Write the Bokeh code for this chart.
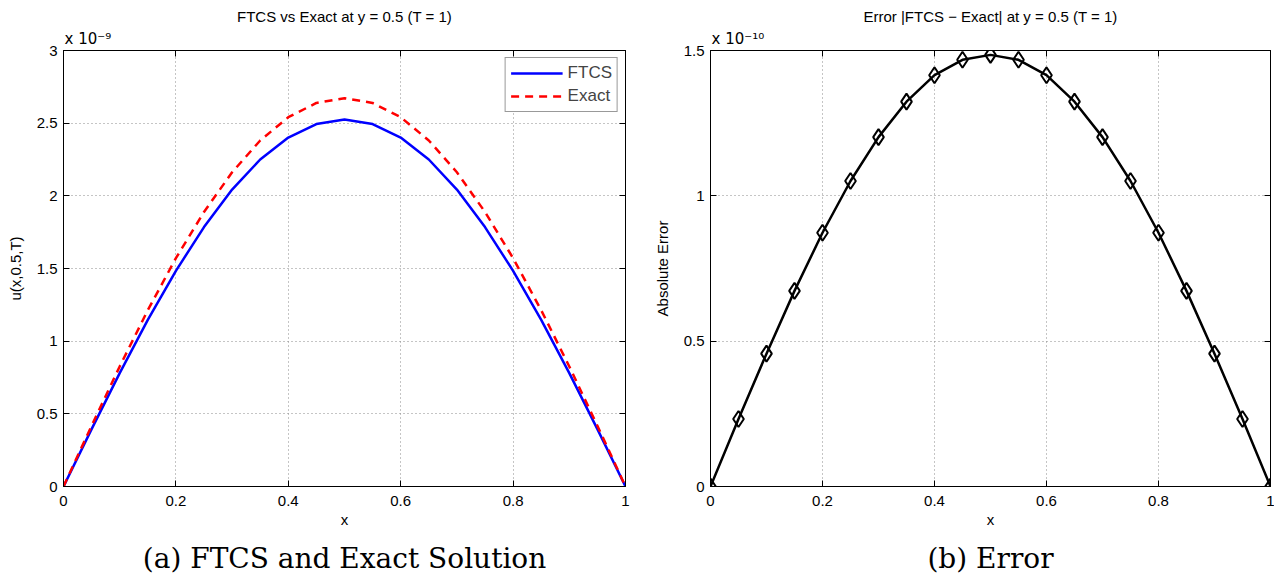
from bokeh.plotting import figure
from bokeh.models import Range1d, LinearAxis, Title, Legend, LegendItem, FixedTicker
from bokeh.layouts import row
from bokeh.embed import file_html
from bokeh.resources import INLINE

# ---------------- data ----------------
x = [0.0, 0.05, 0.1, 0.15, 0.2, 0.25, 0.3, 0.35, 0.4, 0.45, 0.5,
     0.55, 0.6, 0.65, 0.7, 0.75, 0.8, 0.85, 0.9, 0.95, 1.0]
# values in units of 1e-9
ftcs = [0.0, 0.395, 0.780, 1.146, 1.484, 1.785, 2.043, 2.250, 2.401, 2.494, 2.525,
        2.494, 2.401, 2.250, 2.043, 1.785, 1.484, 1.146, 0.780, 0.395, 0.0]
exact = [0.0, 0.418, 0.826, 1.213, 1.571, 1.889, 2.162, 2.381, 2.541, 2.639, 2.672,
         2.639, 2.541, 2.381, 2.162, 1.889, 1.571, 1.213, 0.826, 0.418, 0.0]
# values in units of 1e-10
error = [0.0, 0.232, 0.457, 0.673, 0.873, 1.051, 1.202, 1.324, 1.415, 1.468, 1.485,
         1.468, 1.415, 1.324, 1.202, 1.051, 0.873, 0.673, 0.457, 0.232, 0.0]

x_ticks = [0, 0.2, 0.4, 0.6, 0.8, 1]
x_tick_labels = ["0", "0.2", "0.4", "0.6", "0.8", "1"]
y1_ticks = [0, 0.5, 1, 1.5, 2, 2.5, 3]
y1_tick_labels = ["0", "0.5", "1", "1.5", "2", "2.5", "3"]
y2_ticks = [0, 0.5, 1, 1.5]
y2_tick_labels = ["0", "0.5", "1", "1.5"]

FONT = "Liberation Sans"
SERIF = "DejaVu Serif"


def make_fig(width, border_left, border_right, y_end, yticks, ylabels,
             title, ylabel, caption, exp_text):
    p = figure(width=width, height=585, output_backend="svg", toolbar_location=None,
               x_range=Range1d(0, 1), y_range=Range1d(0, y_end),
               min_border_left=border_left, min_border_right=border_right,
               min_border_top=50, min_border_bottom=99)
    p.background_fill_color = "white"
    p.border_fill_color = "white"
    p.outline_line_color = "black"
    p.outline_line_width = 1
    p.outline_line_alpha = 1

    xt = FixedTicker(ticks=x_ticks)
    yt = FixedTicker(ticks=yticks)

    bottom = p.below[0]
    left = p.left[0]
    bottom.ticker = xt
    left.ticker = yt
    bottom.major_label_overrides = {t: l for t, l in zip(x_ticks, x_tick_labels)}
    left.major_label_overrides = {t: l for t, l in zip(yticks, ylabels)}
    bottom.axis_label = "x"
    left.axis_label = ylabel
    for ax in [bottom, left]:
        ax.major_tick_in = 6
        ax.major_tick_out = 0
        ax.minor_tick_line_color = None
        ax.axis_line_color = "black"
        ax.major_tick_line_color = "black"
        ax.major_label_text_font = FONT
        ax.major_label_text_font_size = "15px"
        ax.major_label_text_color = "black"
        ax.axis_label_text_font = FONT
        ax.axis_label_text_font_size = "15px"
        ax.axis_label_text_font_style = "normal"
        ax.axis_label_text_color = "black"
    bottom.major_label_standoff = 9
    bottom.axis_label_standoff = 2
    left.major_label_standoff = 6
    left.axis_label_standoff = 10

    # ticks on top and right (MATLAB box style), no labels
    top = LinearAxis(ticker=xt, major_label_overrides={t: "" for t in x_ticks},
                     major_tick_in=6, major_tick_out=0, minor_tick_line_color=None,
                     axis_line_color="black", major_label_standoff=0,
                     major_label_text_font_size="1px")
    right = LinearAxis(ticker=yt, major_label_overrides={t: "" for t in yticks},
                       major_tick_in=6, major_tick_out=0, minor_tick_line_color=None,
                       axis_line_color="black", major_label_standoff=0,
                       major_label_text_font_size="1px")
    p.add_layout(top, "above")
    p.add_layout(right, "right")

    # scale factor label above the axes box
    exp_title = Title(text=exp_text, align="left", offset=1, standoff=5,
                      text_font="DejaVu Sans", text_font_size="15px",
                      text_font_style="normal", text_color="black")
    p.add_layout(exp_title, "above")

    p.title.text = title
    p.title.align = "center"
    p.title.text_font = FONT
    p.title.text_font_size = "15px"
    p.title.text_font_style = "normal"
    p.title.text_color = "black"
    p.title.standoff = 2

    p.xgrid.ticker = xt
    p.ygrid.ticker = yt
    for g in [p.xgrid[0], p.ygrid[0]]:
        g.grid_line_color = "#8a8a8a"
        g.grid_line_dash = "1 3"
        g.grid_line_width = 1

    cap = Title(text=caption, align="center", text_font=SERIF, text_font_size="28px",
                text_font_style="normal", text_color="black", standoff=18)
    p.add_layout(cap, "below")
    return p


p1 = make_fig(640, 63, 15, 3, y1_ticks, y1_tick_labels,
              "FTCS vs Exact at y = 0.5 (T = 1)", "u(x,0.5,T)",
              "(a) FTCS and Exact Solution", "x 10\u207b\u2079")
r1 = p1.line(x, ftcs, line_color="#0000ff", line_width=2.5)
r2 = p1.line(x, exact, line_color="#ff0000", line_width=2.5, line_dash="8 6")
leg = Legend(items=[LegendItem(label="FTCS", renderers=[r1]),
                    LegendItem(label="Exact", renderers=[r2])],
             location="top_right", border_line_color="#333333", border_line_width=1,
             background_fill_alpha=1, label_text_font=FONT, label_text_font_size="17px",
             glyph_width=52, label_standoff=5, padding=5, spacing=3, margin=7)
p1.add_layout(leg)

p2 = make_fig(634, 70, 4, 1.5, y2_ticks, y2_tick_labels,
              "Error |FTCS \u2212 Exact| at y = 0.5 (T = 1)", "Absolute Error",
              "(b) Error", "x 10\u207b\u00b9\u2070")
p2.line(x, error, line_color="black", line_width=2.5)
p2.scatter(x, error, marker="diamond", size=16, fill_color=None,
           line_color="black", line_width=2)

layout = row(p1, p2)
open("out.html", "w").write(file_html(layout, INLINE))
